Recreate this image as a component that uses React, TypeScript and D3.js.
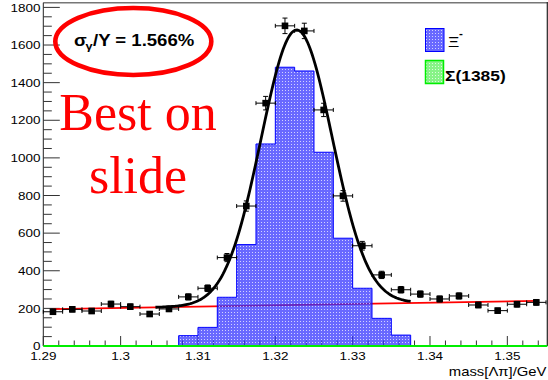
import React from "react";
import * as d3 from "d3";

// ---- data ----
const binCenters = [1.29125, 1.29375, 1.29625, 1.29875, 1.30125, 1.30375, 1.30625, 1.30875, 1.31125, 1.31375, 1.31625, 1.31875, 1.32125, 1.32375, 1.32625, 1.32875, 1.33125, 1.33375, 1.33625, 1.33875, 1.34125, 1.34375, 1.34625, 1.34875, 1.35125, 1.35375];
const dataCounts = [182, 195, 186, 223, 209, 170, 197, 261, 307, 470, 744, 1291, 1702, 1675, 1255, 798, 533, 378, 299, 276, 250, 266, 218, 188, 222, 232];
const xiCounts = [0, 0, 0, 0, 0, 0, 0, 55, 99, 259, 539, 1074, 1482, 1462, 1030, 573, 307, 147, 58, 0, 0, 0, 0, 0, 0, 0];
const sigmaCounts = [0, 0, 0, 0, 0, 0, 0, 0, 0, 0, 0, 0, 0, 0, 0, 0, 0, 0, 0, 0, 0, 0, 0, 0, 0, 0];
const binWidth = 0.0025;

// fit parameters (gaussian + linear background)
const bgLeft = { x: 1.29125, y: 196 };
const bgRight = { x: 1.35375, y: 240 };
const gausAmp = 1462;
const gausMean = 1.32276;
const gausSigma = 0.0046;
const sigRange = [1.3045, 1.3375];

const xMajorTicks = [1.29, 1.3, 1.31, 1.32, 1.33, 1.34, 1.35];
const xTickLabels = ["1.29", "1.3", "1.31", "1.32", "1.33", "1.34", "1.35"];
const yMajorTicks = [0, 200, 400, 600, 800, 1000, 1200, 1400, 1600, 1800];

const W = 548;
const H = 380;
const SX = 1.16;

const x = d3.scaleLinear().domain([1.29, 1.355]).range([43.3, 546]);
const y = d3.scaleLinear().domain([0, 1825]).range([346, 2.7]);

const bg = (v: number) => bgLeft.y + ((bgRight.y - bgLeft.y) * (v - bgLeft.x)) / (bgRight.x - bgLeft.x);
const total = (v: number) => bg(v) + gausAmp * Math.exp(-0.5 * Math.pow((v - gausMean) / gausSigma, 2));

function SText(props: { x: number; y: number; size: number; anchor?: string; weight?: string; fill?: string; children: React.ReactNode; family?: string }) {
  return (
    <g transform={`translate(${props.x},${props.y}) scale(${SX},1)`}>
      <text
        textAnchor={props.anchor || "start"}
        fontSize={props.size}
        fontWeight={props.weight || "normal"}
        fill={props.fill || "#000"}
        fontFamily={props.family || "'Liberation Sans', Arial, sans-serif"}
      >
        {props.children}
      </text>
    </g>
  );
}

export default function App() {
  const x0 = x.range()[0];
  const x1 = x.range()[1];
  const y0 = y(0);

  // minor ticks
  const xMinor = d3.range(0, 33).map((i) => 1.29 + i * 0.002).filter((v) => v <= 1.3551);
  const yMinor = d3.range(0, 37).map((i) => i * 50).filter((v) => v <= 1825);

  // histogram step path
  const histPath = (() => {
    const p = d3.path();
    let started = false;
    binCenters.forEach((c, i) => {
      const lo = c - binWidth / 2;
      const hi = c + binWidth / 2;
      const v = xiCounts[i];
      if (v <= 0) return;
      if (!started) {
        p.moveTo(x(lo), y0);
        started = true;
      }
      p.lineTo(x(lo), y(v));
      p.lineTo(x(hi), y(v));
      const next = xiCounts[i + 1] || 0;
      if (next <= 0) p.lineTo(x(hi), y0);
    });
    return p.toString();
  })();

  const bgLine = d3.line<number>().x((v) => x(v)).y((v) => y(bg(v)));
  const curveSamples = d3.range(0, 201).map((i) => sigRange[0] + ((sigRange[1] - sigRange[0]) * i) / 200);
  const totLine = d3.line<number>().x((v) => x(v)).y((v) => y(total(v))).curve(d3.curveLinear);

  return (
    <svg width={W} height={H} style={{ position: "absolute", left: 0, top: 0 }} xmlns="http://www.w3.org/2000/svg">
      <defs>
        <pattern id="bluePat" width="3" height="3" patternUnits="userSpaceOnUse">
          <rect width="3" height="3" fill="#2f2fff" fillOpacity="0.72" />
          <rect x="0" y="0" width="1" height="1" fill="#ffffff" fillOpacity="0.7" />
        </pattern>
        <pattern id="greenPat" width="3" height="3" patternUnits="userSpaceOnUse">
          <rect width="3" height="3" fill="#5fef5f" fillOpacity="0.75" />
          <rect x="0" y="0" width="1" height="1" fill="#ffffff" fillOpacity="0.7" />
        </pattern>
      </defs>
      <rect width={W} height={H} fill="#fff" />

      {/* frame */}
      <line x1={x0} x2={547.3} y1={2.7} y2={2.7} stroke="#777" strokeWidth={1.4} />
      <line x1={547.3} x2={547.3} y1={2} y2={y0} stroke="#222" strokeWidth={1.2} />
      <line x1={x0} x2={x0} y1={2.7} y2={y0} stroke="#222" strokeWidth={1} />

      {/* y ticks */}
      {yMinor.map((v) => (
        <line key={"ym" + v} x1={x0} x2={v % 200 === 0 ? x0 + 16.5 : x0 + 8.5} y1={y(v)} y2={y(v)} stroke="#333" strokeWidth={1} />
      ))}
      {yMajorTicks.map((v) => (
        <SText key={"yl" + v} x={40.5} y={y(v) + 4.2} size={11.6} anchor="end">
          {String(v)}
        </SText>
      ))}

      {/* x ticks */}
      {xMinor.map((v, i) => (
        <line key={"xm" + i} x1={x(v)} x2={x(v)} y1={y0} y2={i % 5 === 0 ? y0 - 10 : y0 - 5.5} stroke="#333" strokeWidth={1} />
      ))}
      {xMajorTicks.map((v, i) => (
        <SText key={"xl" + v} x={x(v)} y={360} size={11.6} anchor="middle">
          {xTickLabels[i]}
        </SText>
      ))}
      <SText x={546.5} y={375.5} size={12.8} anchor="end">
        mass[Λπ]/GeV
      </SText>

      {/* background fit (red) */}
      <path d={bgLine([bgLeft.x, bgRight.x]) || ""} fill="none" stroke="#ff0000" strokeWidth={1.8} />

      {/* Xi- histogram */}
      <path d={histPath} fill="url(#bluePat)" stroke="#0000ff" strokeWidth={1} />

      {/* Sigma(1385) histogram (empty) */}
      <path
        d={d3.line<number>().x((v, i) => x(v))(binCenters.map((c) => c)) ? `M${x0},${y(0)}H${x1 + 1.3}` : ""}
        fill="none"
        stroke="#00ee00"
        strokeWidth={2.2}
      />
      {sigmaCounts.length === 0 ? null : null}

      {/* total fit (black) */}
      <path d={totLine(curveSamples) || ""} fill="none" stroke="#000" strokeWidth={2.8} />

      {/* data points */}
      {binCenters.map((c, i) => {
        const n = dataCounts[i];
        const e = Math.sqrt(n);
        const px = x(c);
        const py = y(n);
        const xl = x(c - binWidth / 2);
        const xr = x(c + binWidth / 2);
        const yt = y(n + e);
        const yb = y(n - e);
        return (
          <g key={"pt" + i} stroke="#000" strokeWidth={1}>
            <line x1={xl} x2={xr} y1={py} y2={py} />
            <line x1={px} x2={px} y1={yt} y2={yb} />
            <line x1={xl} x2={xl} y1={py - 2} y2={py + 2} />
            <line x1={xr} x2={xr} y1={py - 2} y2={py + 2} />
            <line x1={px - 2.5} x2={px + 2.5} y1={yt} y2={yt} />
            <line x1={px - 2.5} x2={px + 2.5} y1={yb} y2={yb} />
            <rect x={px - 3.3} y={py - 3.3} width={6.6} height={6.6} fill="#000" stroke="none" />
          </g>
        );
      })}

      {/* legend */}
      <rect x={425.5} y={28.5} width={18.5} height={23} fill="url(#bluePat)" stroke="#0000ff" strokeWidth={1} />
      <rect x={425.5} y={60.5} width={18} height={23} fill="url(#greenPat)" stroke="#00ee00" strokeWidth={1.5} />
      <SText x={448} y={46.5} size={15} weight="normal">
        Ξ
      </SText>
      <SText x={459} y={37} size={10} weight="bold">
        -
      </SText>
      <SText x={445} y={81} size={15} weight="bold">
        Σ(1385)
      </SText>

      {/* resolution annotation */}
      <SText x={74} y={45.5} size={16} weight="bold">
        σ
      </SText>
      <SText x={85.5} y={50} size={11} weight="bold">
        γ
      </SText>
      <SText x={93} y={45.5} size={16} weight="bold">
        /Y = 1.566%
      </SText>
      <ellipse cx={133.3} cy={41.5} rx={78} ry={33.5} fill="none" stroke="#ff0000" strokeWidth={4.6} />

      <text x={138} y={130} textAnchor="middle" fontFamily="'Liberation Serif', 'Times New Roman', serif" fontSize={52} fill="#ff0000">
        Best on
      </text>
      <text x={138} y={193} textAnchor="middle" fontFamily="'Liberation Serif', 'Times New Roman', serif" fontSize={52} fill="#ff0000">
        slide
      </text>
    </svg>
  );
}
